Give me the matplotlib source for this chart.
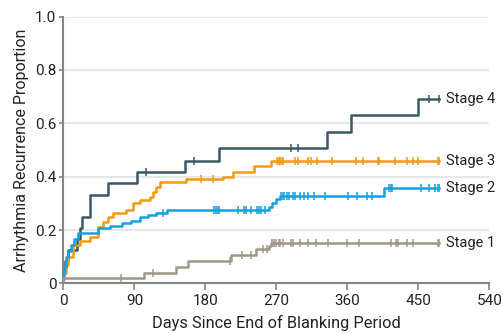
import numpy as np
import matplotlib
matplotlib.use("Agg")
import matplotlib.pyplot as plt

plt.rcParams['font.family'] = ['Roboto', 'DejaVu Sans']

# Kaplan-Meier style step data (days, cumulative recurrence proportion)
stage4_t = [0, 2, 5.7, 16.7, 21, 24, 33.5, 56, 93.5, 154, 197, 334, 364, 449]
stage4_p = [0.042, 0.083, 0.125, 0.167, 0.208, 0.25, 0.333, 0.375, 0.417, 0.458, 0.508, 0.569, 0.632, 0.69]
stage4_cens = [105, 166, 288, 298, 463, 476]

stage3_t = [0, 1, 3, 6, 12, 21, 33.6, 44, 50, 57, 63, 80, 88.5, 97, 109.6, 113.8, 118, 122, 156, 202, 215, 241, 263]
stage3_p = [0.015, 0.04, 0.07, 0.1, 0.144, 0.16, 0.175, 0.212, 0.231, 0.25, 0.265, 0.275, 0.302, 0.313, 0.325, 0.344, 0.362, 0.379, 0.392, 0.40, 0.419, 0.441, 0.459]
stage3_cens = [174.5, 189.5, 271, 273, 275, 277, 279, 293, 297, 309.6, 314, 321, 340.5,
               371, 379.4, 398.5, 400.6, 420, 436, 443, 449, 475, 476]

stage2_t = [0, 1, 3, 6, 10, 14, 19, 44, 59, 74, 86, 97, 107, 118, 131, 261, 265, 270, 274, 406]
stage2_p = [0.03, 0.06, 0.1, 0.12, 0.145, 0.165, 0.19, 0.207, 0.215, 0.225, 0.235, 0.248, 0.256, 0.264, 0.275, 0.285, 0.30, 0.315, 0.327, 0.358]
stage2_cens = [126, 191.5, 194, 196, 197.5, 221.5, 229.5, 231.5, 238, 246, 248, 250.5, 255,
               276, 278, 280, 283, 286, 290.6, 293, 300, 305, 309.6, 318, 331, 361, 372,
               384.5, 391, 413, 415, 417, 453, 464, 470.5, 475, 476]

stage1_t = [0, 102, 142.6, 158, 212, 244, 261, 263]
stage1_p = [0.021, 0.04, 0.062, 0.083, 0.106, 0.128, 0.141, 0.152]
stage1_cens = [72.5, 114, 211, 227, 238, 252.6, 257.6, 265, 267, 270, 273, 275, 278, 288.6,
               290.6, 300, 309.6, 319.6, 336, 359, 375, 415, 421.6, 424, 436, 443, 475, 476]

end_day = 476

stages = [
    ("Stage 4", stage4_t, stage4_p, stage4_cens, "#3b5866"),
    ("Stage 3", stage3_t, stage3_p, stage3_cens, "#f39a12"),
    ("Stage 2", stage2_t, stage2_p, stage2_cens, "#18a0dc"),
    ("Stage 1", stage1_t, stage1_p, stage1_cens, "#a09787"),
]

fig = plt.figure(figsize=(5.03, 3.33), dpi=100)
ax = fig.add_axes([0.126, 0.149, 0.847, 0.801])

for name, t, p, cens, color in stages:
    tt = [0] + list(t) + [end_day]
    pp = [0] + list(p) + [p[-1]]
    ax.step(tt, pp, where='post', color=color, lw=1.8, zorder=3)
    # censor marks sit on the curve value at that time
    idx = np.searchsorted(t, cens, side='right') - 1
    cy = np.array(p)[idx]
    ax.plot(cens, cy, ls='none', marker='|', ms=6, mew=1.1, color=color, zorder=4)
    ax.text(end_day + 9, p[-1], name, fontsize=10.5, va='center', ha='left', color='#222222')

ax.set_xlim(0, 540)
ax.set_ylim(0, 1.0)
ax.set_xticks(np.arange(0, 541, 90))
ax.set_yticks([0, 0.2, 0.4, 0.6, 0.8, 1.0])
ax.set_yticklabels(['0', '0.2', '0.4', '0.6', '0.8', '1.0'])
for yv in [0.2, 0.4, 0.6, 0.8, 1.0]:
    ax.axhline(yv, color='#e3e3e3', lw=1.2, zorder=1)

for s in ['top', 'right']:
    ax.spines[s].set_visible(False)
for s in ['left', 'bottom']:
    ax.spines[s].set_color('#858585')
    ax.spines[s].set_linewidth(1.5)
ax.tick_params(axis='x', length=5, width=1.2, color='#858585', labelsize=11, labelcolor='#222222', pad=3)
ax.tick_params(axis='y', length=3, width=1.2, color='#858585', labelsize=11, labelcolor='#222222', pad=2)

ax.set_xlabel("Days Since End of Blanking Period", fontsize=11.8, color='#222222', labelpad=5)
ax.set_ylabel("Arrhythmia Recurrence Proportion", fontsize=11.5, color='#222222', labelpad=4)

fig.savefig("out.png", dpi=100)
